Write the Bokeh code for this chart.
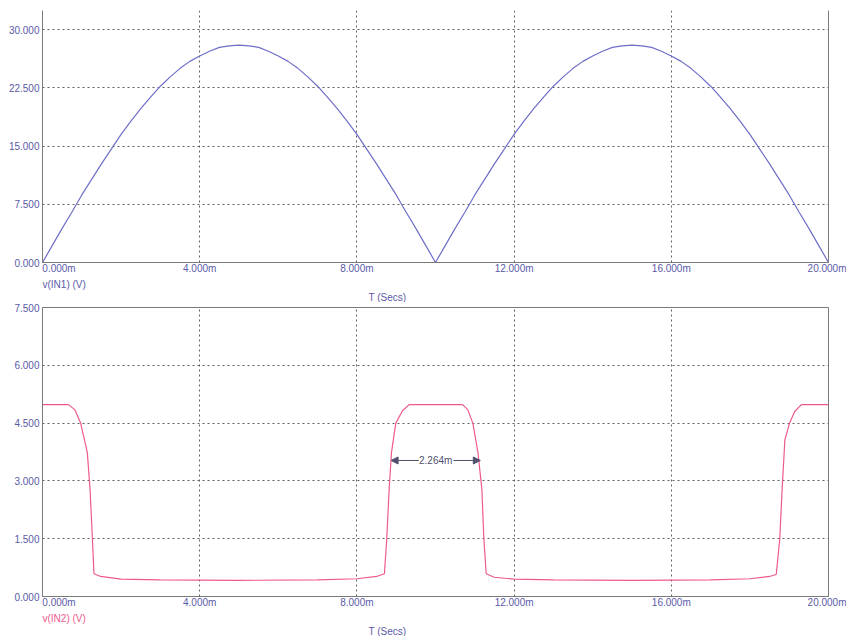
from bokeh.plotting import figure
from bokeh.layouts import column
from bokeh.models import FixedTicker, PrintfTickFormatter, LinearAxis, Label, Arrow, NormalHead, Range1d, Title
from bokeh.embed import file_html
from bokeh.resources import INLINE

# ---------------- data ----------------
x_ticks = [4, 8, 12, 16, 20]
y1_ticks = [0, 7.5, 15, 22.5, 30]
y2_ticks = [0, 1.5, 3, 4.5, 6, 7.5]

# v(IN1): rectified waveform (time in ms, volts)
t1 = [0.0, 0.25, 0.5, 0.75, 1.0, 1.25, 1.5, 1.75, 2.0, 2.25, 2.5, 2.75, 3.0, 3.25, 3.5, 3.75, 4.0, 4.25,
      4.5, 4.75, 5.0, 5.25, 5.5, 5.75, 6.0, 6.25, 6.5, 6.75, 7.0, 7.25, 7.5, 7.75, 8.0, 8.25, 8.5, 8.75,
      9.0, 9.25, 9.5, 9.75, 10.0, 10.25, 10.5, 10.75, 11.0, 11.25, 11.5, 11.75, 12.0, 12.25, 12.5, 12.75,
      13.0, 13.25, 13.5, 13.75, 14.0, 14.25, 14.5, 14.75, 15.0, 15.25, 15.5, 15.75, 16.0, 16.25, 16.5,
      16.75, 17.0, 17.25, 17.5, 17.75, 18.0, 18.25, 18.5, 18.75, 19.0, 19.25, 19.5, 19.75, 20.0]
v1 = [0.0, 2.2, 4.4, 6.5, 8.7, 10.7, 12.7, 14.6, 16.5, 18.2, 19.8, 21.3, 22.7, 23.9, 25.0, 25.9, 26.6,
      27.2, 27.7, 27.9, 28.0, 27.9, 27.7, 27.2, 26.6, 25.9, 25.0, 23.9, 22.7, 21.3, 19.8, 18.2, 16.5,
      14.6, 12.7, 10.7, 8.7, 6.5, 4.4, 2.2, 0.0, 2.2, 4.4, 6.5, 8.7, 10.7, 12.7, 14.6, 16.5, 18.2, 19.8,
      21.3, 22.7, 23.9, 25.0, 25.9, 26.6, 27.2, 27.7, 27.9, 28.0, 27.9, 27.7, 27.2, 26.6, 25.9, 25.0,
      23.9, 22.7, 21.3, 19.8, 18.2, 16.5, 14.6, 12.7, 10.7, 8.7, 6.5, 4.4, 2.2, 0.0]

# v(IN2): pulse waveform (time in ms, volts)
t2 = [0.0, 0.66, 0.82, 0.97, 1.14, 1.21, 1.27, 1.31, 1.48, 2.0, 3.0, 5.0, 7.0, 8.0, 8.5, 8.70,
      8.76, 8.82, 8.88, 8.99, 9.16, 9.33, 10.69, 10.82, 10.95, 11.08, 11.18, 11.23, 11.29, 11.49,
      12.0, 13.0, 15.0, 17.0, 18.0, 18.5, 18.67, 18.76, 18.82, 18.89, 19.01, 19.14, 19.31, 20.0]
v2 = [4.98, 4.98, 4.85, 4.5, 3.74, 2.78, 1.5, 0.59, 0.52, 0.45, 0.43, 0.42, 0.43, 0.46, 0.52, 0.59,
      1.5, 2.78, 3.74, 4.5, 4.82, 4.98, 4.98, 4.85, 4.5, 3.74, 2.78, 1.5, 0.59, 0.50,
      0.45, 0.43, 0.42, 0.43, 0.46, 0.52, 0.57, 1.5, 2.78, 4.07, 4.5, 4.8, 4.98, 4.98]

# measurement marker
meas_left, meas_right, meas_level = 8.87, 11.14, 3.53
meas_text = "2.264m"

FONT = "Liberation Sans"
LBL = "#5a5aa8"
AX = "#7a7a7a"
GRID = "#606060"
BLUE = "#6e6ec8"
PINK = "#ee5a8c"

# first time label sits to the right of the origin (left aligned with the axis)
first_label_pos = 0.42


def base(height, top_border, y_end, y_ticks):
    p = figure(width=846, height=height, output_backend="svg", toolbar_location=None,
               x_range=Range1d(0, 20), y_range=Range1d(0, y_end),
               min_border_left=42, min_border_right=18, min_border_top=top_border,
               min_border_bottom=0,
               background_fill_color="white", border_fill_color="white")
    p.xaxis.ticker = FixedTicker(ticks=[first_label_pos] + x_ticks)
    p.xaxis.major_label_overrides = {first_label_pos: "0.000m"}
    p.yaxis.ticker = FixedTicker(ticks=y_ticks)
    p.xaxis.formatter = PrintfTickFormatter(format="%.3fm")
    p.yaxis.formatter = PrintfTickFormatter(format="%.3f")
    for ax in (p.xaxis[0], p.yaxis[0]):
        ax.axis_line_color = AX
        ax.axis_line_width = 1
        ax.major_tick_line_color = None
        ax.minor_tick_line_color = None
        ax.major_tick_out = 0
        ax.major_tick_in = 0
        ax.major_label_text_font = FONT
        ax.major_label_text_font_size = "10px"
        ax.major_label_text_color = LBL
        ax.major_label_standoff = 0
    p.yaxis.major_label_standoff = 3
    p.xgrid.ticker = FixedTicker(ticks=x_ticks)
    p.ygrid.ticker = FixedTicker(ticks=y_ticks)
    for g in (p.xgrid[0], p.ygrid[0]):
        g.grid_line_color = GRID
        g.grid_line_dash = "2 3"
        g.grid_line_width = 1
    return p


def add_title(p, text, color, offset):
    p.add_layout(Title(text=text, align="left", offset=offset, standoff=0,
                       text_font=FONT, text_font_size="10px", text_font_style="normal",
                       text_color=color), "below")


# ---------------- top plot ----------------
p1 = base(302, 10, 32.45, y1_ticks)
p1.outline_line_color = None
rax = LinearAxis(ticker=FixedTicker(ticks=[]), axis_line_color=AX, major_tick_line_color=None,
                 minor_tick_line_color=None, major_label_standoff=0)
p1.add_layout(rax, "right")
p1.line(t1, v1, line_color=BLUE, line_width=1.2)
add_title(p1, "v(IN1) (V)", LBL, 0)
add_title(p1, "T (Secs)", LBL, 326)

# ---------------- bottom plot ----------------
p2 = base(334, 5, 7.5, y2_ticks)
p2.outline_line_color = AX
p2.outline_line_alpha = 1
p2.line(t2, v2, line_color=PINK, line_width=1.2)
add_title(p2, "v(IN2) (V)", PINK, 0)
add_title(p2, "T (Secs)", LBL, 326)

MC = "#50506e"
mid = (meas_left + meas_right) / 2
p2.add_layout(Arrow(x_start=mid - 0.43, y_start=meas_level, x_end=meas_left, y_end=meas_level,
                    end=NormalHead(size=7, fill_color=MC, line_color=MC), line_color=MC, line_width=1))
p2.add_layout(Arrow(x_start=mid + 0.45, y_start=meas_level, x_end=meas_right, y_end=meas_level,
                    end=NormalHead(size=7, fill_color=MC, line_color=MC), line_color=MC, line_width=1))
p2.add_layout(Label(x=mid, y=meas_level, text=meas_text, text_align="center", text_baseline="middle",
                    text_font=FONT, text_font_size="10px", text_color=MC))

layout = column(p1, p2, spacing=0)
open("out.html", "w").write(file_html(layout, INLINE))
